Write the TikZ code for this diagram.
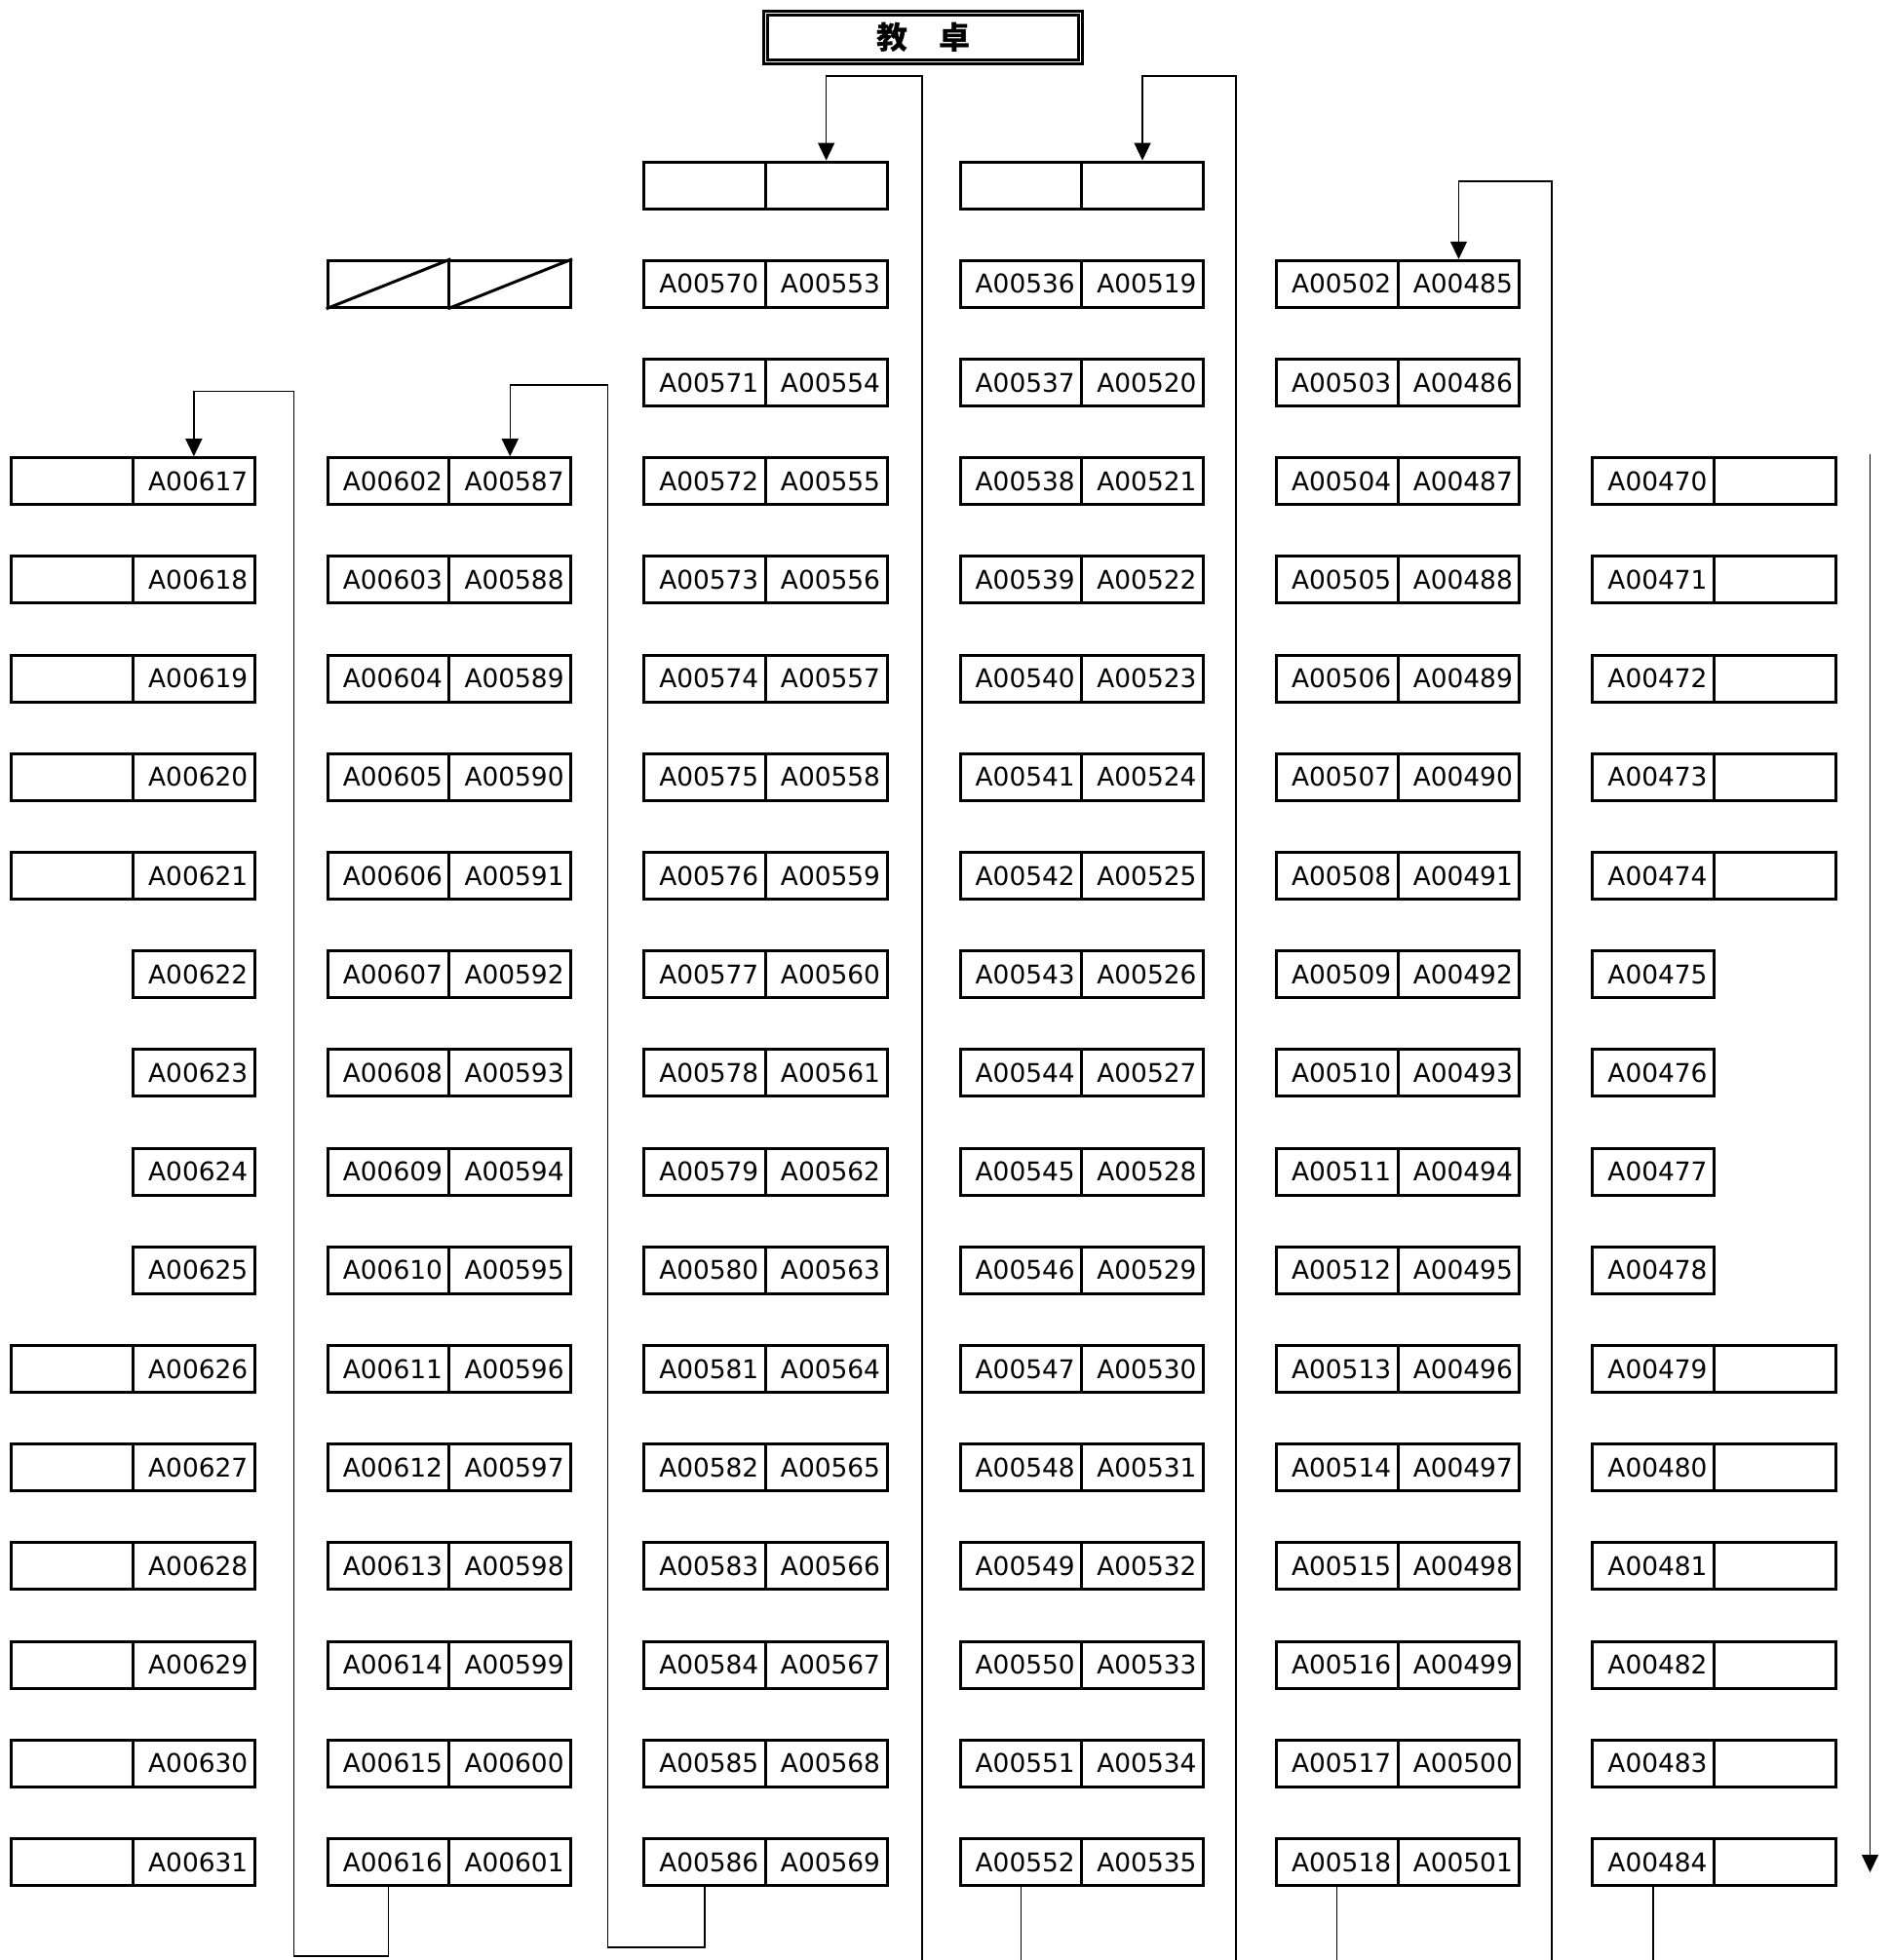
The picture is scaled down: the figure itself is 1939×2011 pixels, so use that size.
\documentclass[tikz,border=0pt]{standalone}
\usepackage{fontspec}
\setmainfont{DejaVu Sans}
\newfontfamily\cjk{Noto Sans CJK SC}
\usetikzlibrary{arrows.meta}
\begin{document}
\begin{tikzpicture}[x=0.5pt,y=-0.5pt,
  seat/.style={draw, line width=1.5pt, minimum width=62.35pt, minimum height=24pt,
    inner xsep=3.5pt, inner ysep=0pt, text width=55.35pt, align=right,
    font=\fontsize{13.2pt}{15pt}\selectfont},
  conn/.style={line width=0.7pt},
  arr/.style={conn, -{Triangle[length=9pt,width=8.5pt]}},
  desk/.style={draw, line width=1.35pt, double, double distance=0.8pt,
    minimum width=161.5pt, minimum height=25pt, inner sep=0pt,
    font=\cjk\bfseries\fontsize{16pt}{16pt}\selectfont}]
\useasboundingbox (0,0) rectangle (1939,2011);

% teacher desk
\node[desk] (desk) at (947,38.5) {教　卓};

% column 1 (right cells with labels, left cells empty)
\foreach \k in {3,...,17}{
  \pgfmathtruncatemacro{\n}{617+\k-3}
  \node[seat] (c1r\k) at (198.85,190.1+101.2*\k) {A00\n};
}
\foreach \k in {3,4,5,6,7,12,13,14,15,16,17}{
  \node[seat] (c1l\k) at (74.15,190.1+101.2*\k) {};
}

% column 2
\node[seat] (c2l1) at (398.55,291.3) {};
\node[seat] (c2r1) at (523.25,291.3) {};
\draw[line width=1.5pt] (c2l1.south west) -- (c2l1.north east);
\draw[line width=1.5pt] (c2r1.south west) -- (c2r1.north east);
\foreach \k in {3,...,17}{
  \pgfmathtruncatemacro{\a}{602+\k-3}
  \pgfmathtruncatemacro{\b}{587+\k-3}
  \node[seat] (c2l\k) at (398.55,190.1+101.2*\k) {A00\a};
  \node[seat] (c2r\k) at (523.25,190.1+101.2*\k) {A00\b};
}

% column 3
\node[seat] (c3l0) at (722.95,190.1) {};
\node[seat] (c3r0) at (847.65,190.1) {};
\foreach \k in {1,...,17}{
  \pgfmathtruncatemacro{\a}{570+\k-1}
  \pgfmathtruncatemacro{\b}{553+\k-1}
  \node[seat] (c3l\k) at (722.95,190.1+101.2*\k) {A00\a};
  \node[seat] (c3r\k) at (847.65,190.1+101.2*\k) {A00\b};
}

% column 4
\node[seat] (c4l0) at (1047.35,190.1) {};
\node[seat] (c4r0) at (1172.05,190.1) {};
\foreach \k in {1,...,17}{
  \pgfmathtruncatemacro{\a}{536+\k-1}
  \pgfmathtruncatemacro{\b}{519+\k-1}
  \node[seat] (c4l\k) at (1047.35,190.1+101.2*\k) {A00\a};
  \node[seat] (c4r\k) at (1172.05,190.1+101.2*\k) {A00\b};
}

% column 5
\foreach \k in {1,...,17}{
  \pgfmathtruncatemacro{\a}{502+\k-1}
  \pgfmathtruncatemacro{\b}{485+\k-1}
  \node[seat] (c5l\k) at (1371.75,190.1+101.2*\k) {A00\a};
  \node[seat] (c5r\k) at (1496.45,190.1+101.2*\k) {A00\b};
}

% column 6
\foreach \k in {3,...,17}{
  \pgfmathtruncatemacro{\a}{470+\k-3}
  \node[seat] (c6l\k) at (1696.15,190.1+101.2*\k) {A00\a};
}
\foreach \k in {3,4,5,6,7,12,13,14,15,16,17}{
  \node[seat] (c6r\k) at (1820.85,190.1+101.2*\k) {};
}

% connector coordinates
\coordinate (p1) at (301.4,2007);
\coordinate (p2) at (301.4,401.5);
\coordinate (q1) at (623.3,1998);
\coordinate (q2) at (623.3,395);
\coordinate (a1) at (945.8,2011);
\coordinate (a2) at (945.8,78);
\coordinate (b1) at (1268,2011);
\coordinate (b2) at (1268,78);
\coordinate (d1) at (1592,2011);
\coordinate (d2) at (1592,186);
\coordinate (e1) at (1918.5,466);
\coordinate (e2) at (1918.5,1921);
\coordinate (bot) at (0,2011);

% connectors
\draw[arr] (c2l17.south) |- (p1) -- (p2) -| (c1r3.north);
\draw[arr] (c3l17.south) |- (q1) -- (q2) -| (c2r3.north);
\draw[arr] (a1) -- (a2) -| (c3r0.north);
\draw[conn] (c4l17.south) -- (c4l17.south |- bot);
\draw[arr] (b1) -- (b2) -| (c4r0.north);
\draw[conn] (c5l17.south) -- (c5l17.south |- bot);
\draw[arr] (d1) -- (d2) -| (c5r1.north);
\draw[conn] (c6l17.south) -- (c6l17.south |- bot);
\draw[arr] (e1) -- (e2);
\end{tikzpicture}
\end{document}
